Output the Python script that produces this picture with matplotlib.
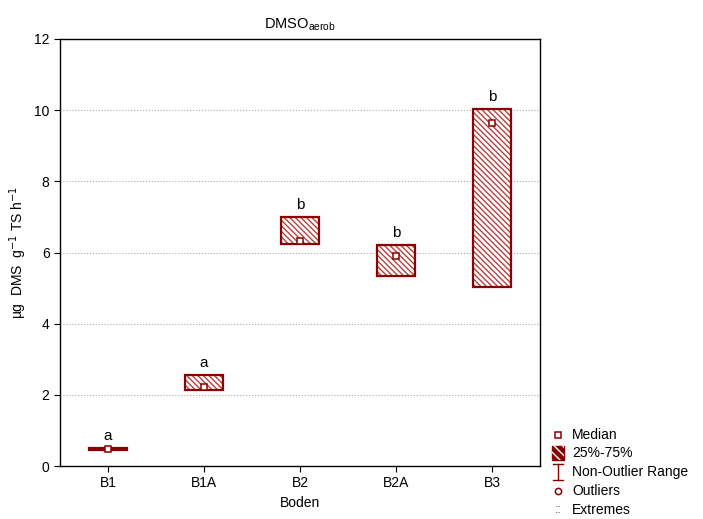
import matplotlib
matplotlib.use("Agg")
import matplotlib.pyplot as plt
from matplotlib.patches import Rectangle
from matplotlib.lines import Line2D

plt.rcParams['font.family'] = ['Liberation Sans', 'DejaVu Sans']
plt.rcParams['hatch.linewidth'] = 1.0

categories = ['B1', 'B1A', 'B2', 'B2A', 'B3']
q25 = [0.44, 2.14, 6.24, 5.34, 5.03]
q75 = [0.50, 2.56, 7.00, 6.21, 10.02]
medians = [0.47, 2.22, 6.32, 5.90, 9.64]
letters = ['a', 'a', 'b', 'b', 'b']
yticks = [0, 2, 4, 6, 8, 10, 12]

col = '#8B0000'
hcol = '#B84040'
HATCH = '\\' * 6

fig = plt.figure(figsize=(7.03, 5.19), dpi=100)
ax = fig.add_axes([60/703, 1-466/519, 480/703, 427/519])

bw = 0.4
for i, (lo, hi, med, let) in enumerate(zip(q25, q75, medians, letters)):
    r = Rectangle((i - bw/2, lo), bw, hi - lo, facecolor='white', edgecolor=hcol,
                  hatch=HATCH, linewidth=0, zorder=3)
    ax.add_patch(r)
    r2 = Rectangle((i - bw/2, lo), bw, hi - lo, facecolor='none', edgecolor=col,
                   linewidth=1.6, zorder=4)
    ax.add_patch(r2)
    ax.plot([i], [med], marker='s', markersize=5, markerfacecolor='white',
            markeredgecolor=col, markeredgewidth=1.1, zorder=5)
    ax.text(i, hi + 0.15, let, ha='center', va='bottom', fontsize=11)

ax.set_xlim(-0.5, 4.5)
ax.set_ylim(0, 12)
ax.set_yticks(yticks)
ax.set_xticks(range(len(categories)))
ax.set_xticklabels(categories)
ax.tick_params(direction='out', labelsize=10, length=4)
ax.yaxis.grid(True, linestyle=':', color='#aaaaaa', linewidth=0.8)
ax.set_axisbelow(True)
for s in ax.spines.values():
    s.set_linewidth(1.0)

ax.set_xlabel('Boden', fontsize=10)
ax.set_ylabel('µg  DMS  g$^{-1}$ TS h$^{-1}$', fontsize=10)
ax.set_title('DMSO$_{\\mathregular{aerob}}$', fontsize=10.5, pad=8)

# Legend (manual)
def fx(px):
    return px / 703
def fy(py):
    return 1 - py / 519

mx = 558
tx = 572
ys = [435, 453, 472, 491, 510]
labels = ['Median', '25%-75%', 'Non-Outlier Range', 'Outliers', 'Extremes']
fig.lines.append(Line2D([fx(mx)], [fy(ys[0])], marker='s', markersize=5,
                        markerfacecolor='white', markeredgecolor=col,
                        markeredgewidth=1.1, transform=fig.transFigure))
rect_xy = (fx(mx - 6), fy(ys[1] + 7))
fig.patches.append(Rectangle(rect_xy, 12/703, 14/519, facecolor=col, edgecolor=col,
                             linewidth=1, transform=fig.transFigure))
fig.patches.append(Rectangle(rect_xy, 12/703, 14/519, facecolor='none', edgecolor='white',
                             hatch='\\' * 4, linewidth=0, transform=fig.transFigure))
yy = ys[2]
fig.lines.append(Line2D([fx(mx), fx(mx)], [fy(yy - 8), fy(yy + 8)], color=col,
                        linewidth=1.0, transform=fig.transFigure))
fig.lines.append(Line2D([fx(mx - 5), fx(mx + 5)], [fy(yy - 8), fy(yy - 8)], color=col,
                        linewidth=1.0, transform=fig.transFigure))
fig.lines.append(Line2D([fx(mx - 5), fx(mx + 5)], [fy(yy + 8), fy(yy + 8)], color=col,
                        linewidth=1.0, transform=fig.transFigure))
fig.lines.append(Line2D([fx(mx)], [fy(ys[3])], marker='o', markersize=4.5,
                        markerfacecolor='white', markeredgecolor=col,
                        markeredgewidth=1.1, transform=fig.transFigure))
fig.text(fx(mx), fy(ys[4]), '::', ha='center', va='center', fontsize=9, color='#555555')
for y, lab in zip(ys, labels):
    fig.text(fx(tx), fy(y), lab, ha='left', va='center', fontsize=10)

fig.savefig('out.png', dpi=100)
